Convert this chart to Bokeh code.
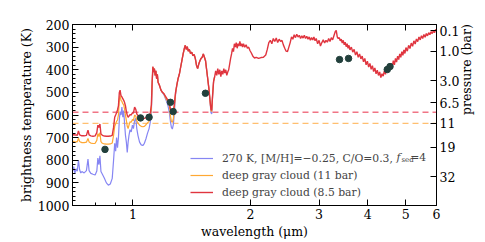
import math
from bokeh.plotting import figure
from bokeh.models import (Range1d, LinearAxis, LogAxis, FixedTicker, SingleIntervalTicker,
                          Span, Legend, LegendItem, Label)
from bokeh.embed import file_html
from bokeh.resources import INLINE

# ---------------- data ----------------
wl_nir = [0.700, 0.705, 0.710, 0.715, 0.720, 0.725, 0.730, 0.735, 0.740, 0.750,
          0.760, 0.767, 0.772, 0.780, 0.790, 0.800, 0.808, 0.813, 0.818, 0.823,
          0.828, 0.835, 0.845, 0.855, 0.865, 0.875, 0.885, 0.892, 0.898, 0.903,
          0.908, 0.913, 0.918, 0.923, 0.927, 0.932, 0.937, 0.942, 0.947, 0.952,
          0.957, 0.962, 0.967, 0.972, 0.977, 0.983, 0.990, 0.997, 1.003, 1.010,
          1.017, 1.023, 1.030, 1.040, 1.050, 1.060, 1.070, 1.080, 1.090, 1.100,
          1.108, 1.115, 1.120, 1.125, 1.130, 1.135, 1.140, 1.145, 1.150, 1.155,
          1.160, 1.170, 1.180, 1.190, 1.200, 1.210, 1.220, 1.230, 1.240, 1.248,
          1.255, 1.262, 1.270, 1.278, 1.286, 1.295, 1.305, 1.315, 1.325, 1.335,
          1.345, 1.355, 1.362, 1.370, 1.378, 1.386, 1.395, 1.405, 1.415, 1.425,
          1.435, 1.445, 1.455, 1.465, 1.475, 1.485, 1.495, 1.505, 1.515, 1.525,
          1.535, 1.545, 1.555, 1.565, 1.575, 1.585, 1.592, 1.600, 1.610, 1.620]
t_blue = [850, 828, 858, 838, 848, 800, 842, 856, 850, 856,
          846, 795, 846, 858, 862, 865, 848, 790, 820, 780,
          850, 862, 880, 900, 910, 905, 880, 800, 725, 760,
          700, 745, 700, 620, 585, 600, 565, 610, 580, 640,
          690, 720, 765, 720, 690, 665, 675, 645, 660, 625,
          615, 660, 690, 720, 732, 735, 725, 705, 680, 660,
          630, 590, 470, 390, 410, 395, 425, 405, 440, 420,
          455, 470, 490, 500, 510, 525, 540, 560, 590, 630,
          655, 662, 640, 580, 510, 470, 440, 420, 390, 360,
          330, 305, 292, 310, 298, 318, 310, 328, 322, 338,
          332, 350, 380, 395, 375, 360, 350, 345, 330, 345,
          360, 400, 440, 480, 530, 590, 595, 520, 450, 430]
t_orange = [722, 716, 720, 718, 719, 703, 717, 720, 722, 722,
            720, 704, 719, 724, 726, 725, 712, 682, 695, 678,
            718, 725, 728, 729, 729, 728, 724, 690, 650, 640,
            628, 622, 600, 530, 515, 535, 540, 550, 555, 575,
            600, 625, 650, 660, 645, 630, 632, 620, 625, 600,
            605, 625, 635, 645, 650, 652, 650, 643, 635, 628,
            612, 570, 460, 388, 410, 395, 425, 405, 440, 420,
            455, 470, 490, 500, 505, 520, 532, 545, 560, 605,
            628, 633, 615, 560, 505, 470, 440, 420, 390, 360,
            330, 305, 292, 310, 298, 318, 310, 328, 322, 338,
            332, 350, 380, 395, 375, 360, 350, 345, 330, 345,
            360, 400, 440, 480, 530, 580, 585, 515, 450, 430]
t_red_nir = [690, 686, 689, 688, 690, 670, 688, 690, 692, 692,
             690, 667, 688, 692, 694, 692, 678, 645, 655, 640,
             684, 690, 693, 694, 694, 693, 690, 655, 610, 600,
             590, 578, 560, 500, 490, 515, 520, 528, 535, 545,
             560, 585, 600, 610, 605, 598, 600, 590, 592, 565,
             575, 595, 603, 610, 614, 616, 615, 612, 608, 604,
             590, 555, 455, 386, 410, 395, 425, 405, 440, 420,
             455, 470, 490, 500, 505, 515, 525, 535, 548, 575,
             588, 592, 585, 545, 500, 470, 440, 420, 390, 360,
             330, 305, 292, 310, 298, 318, 310, 328, 322, 338,
             332, 350, 380, 395, 375, 360, 350, 345, 330, 345,
             360, 400, 440, 480, 530, 575, 580, 515, 450, 430]

wl_ir = [1.630, 1.640, 1.650, 1.660, 1.670, 1.680, 1.690, 1.700, 1.710, 1.720,
         1.730, 1.740, 1.750, 1.760, 1.770, 1.780, 1.790, 1.800, 1.810, 1.820,
         1.830, 1.840, 1.850, 1.860, 1.870, 1.880, 1.890, 1.900, 1.910, 1.920,
         1.935, 1.950, 1.965, 1.980, 1.995, 2.010, 2.030, 2.050, 2.070, 2.100,
         2.130, 2.160, 2.190, 2.210, 2.230, 2.250, 2.270, 2.290, 2.310, 2.330,
         2.350, 2.370, 2.390, 2.410, 2.430, 2.450, 2.470, 2.490, 2.510, 2.530,
         2.550, 2.570, 2.590, 2.610, 2.630, 2.650, 2.670, 2.690, 2.710, 2.730,
         2.750, 2.770, 2.790, 2.810, 2.830, 2.850, 2.870, 2.890, 2.910, 2.930,
         2.950, 2.975, 3.000, 3.025, 3.050, 3.075, 3.100, 3.125, 3.150, 3.175,
         3.200, 3.225, 3.250, 3.275, 3.300, 3.320, 3.340, 3.360, 3.380, 3.400,
         3.420, 3.440, 3.460, 3.480, 3.500, 3.520, 3.540, 3.560, 3.580, 3.600,
         3.630, 3.660, 3.690, 3.720, 3.750, 3.780, 3.810, 3.840, 3.870, 3.900,
         3.930, 3.960, 3.990, 4.020, 4.050, 4.080, 4.110, 4.140, 4.170, 4.200,
         4.230, 4.260, 4.290, 4.320, 4.350, 4.380, 4.410, 4.440, 4.470, 4.500,
         4.530, 4.560, 4.590, 4.620, 4.650, 4.680, 4.710, 4.740, 4.770, 4.800,
         4.830, 4.860, 4.890, 4.920, 4.950, 4.980, 5.010, 5.050, 5.090, 5.130,
         5.170, 5.210, 5.250, 5.290, 5.330, 5.370, 5.410, 5.450, 5.490, 5.530,
         5.570, 5.610, 5.650, 5.690, 5.730, 5.770, 5.810, 5.850, 5.890, 5.930,
         5.970, 6.000]
t_red_ir = [405, 425, 395, 420, 400, 430, 405, 420, 395, 415,
            400, 425, 410, 400, 375, 350, 330, 305, 320, 285,
            300, 280, 305, 285, 295, 275, 295, 285, 300, 285,
            300, 290, 305, 300, 315, 325, 340, 348, 345, 350,
            346, 345, 335, 310, 280, 270, 285, 262, 275, 260,
            280, 265, 275, 270, 290, 305, 318, 320, 300, 280,
            255, 265, 245, 258, 243, 255, 248, 262, 250, 260,
            248, 262, 252, 265, 255, 270, 258, 268, 255, 272,
            262, 285, 270, 295, 280, 268, 282, 270, 278, 262,
            275, 258, 268, 250, 232, 226, 255, 262, 258, 272,
            265, 282, 270, 290, 278, 298, 285, 305, 292, 312,
            300, 322, 310, 335, 320, 345, 330, 352, 340, 365,
            350, 378, 362, 388, 372, 398, 382, 408, 392, 418,
            402, 425, 410, 435, 418, 428, 405, 420, 395, 410,
            385, 398, 372, 388, 360, 378, 350, 366, 340, 355,
            330, 345, 320, 336, 312, 328, 302, 318, 292, 306,
            282, 296, 272, 286, 264, 276, 255, 268, 250, 262,
            244, 256, 240, 250, 236, 245, 232, 240, 228, 236,
            222, 225]

# observed photometry points
dot_wl = [0.848, 1.046, 1.100, 1.248, 1.268, 1.534, 3.385, 3.570, 4.487, 4.560]
dot_T = [752, 613, 610, 544, 585, 504, 355, 350, 399, 386]

# cloud-deck temperatures (dashed lines): 11 bar, 8.5 bar
cloud_T = [637, 588]

# axes
x_ticks = [1, 2, 3, 4, 5, 6]
x_minor = [0.8, 0.9]
pressure_T = [227, 319, 448, 545, 637, 743, 872]
pressure_labels = ["0.1", "1.0", "3.0", "6.5", "11", "19", "32"]

labels = ["270 K, [M/H]=\u22120.25, C/O=0.3,", "deep gray cloud (11 bar)",
          "deep gray cloud (8.5 bar)"]
colors = ["#8080f2", "#ffa833", "#e0353f"]
dash_colors = ["#ffbf70", "#f07585"]

FONT = "DejaVu Serif"

# ---------------- figure ----------------
p = figure(width=485, height=242, x_axis_type="log",
           x_range=Range1d(0.7, 6.0), y_range=Range1d(1000, 200),
           output_backend="svg", toolbar_location=None,
           min_border_left=72, min_border_right=49,
           min_border_top=24, min_border_bottom=37)
p.xgrid.visible = False
p.ygrid.visible = False
p.outline_line_color = "black"
p.background_fill_color = "white"


def style(ax, size="12.5px"):
    ax.axis_line_color = "black"
    ax.major_tick_in = 6
    ax.major_tick_out = 0
    ax.minor_tick_in = 3
    ax.minor_tick_out = 0
    ax.major_tick_line_color = "black"
    ax.minor_tick_line_color = "black"
    ax.major_label_text_font = FONT
    ax.major_label_text_font_size = size
    ax.major_label_text_color = "black"
    ax.axis_label_text_font = FONT
    ax.axis_label_text_font_size = "12.5px"
    ax.axis_label_text_font_style = "normal"
    ax.axis_label_text_color = "black"


xax = p.xaxis[0]
xax.ticker = FixedTicker(ticks=x_ticks, minor_ticks=x_minor)
xax.major_label_overrides = {v: str(v) for v in x_ticks}
xax.axis_label = "wavelength (\u03bcm)"
style(xax)
xax.major_label_standoff = 3
xax.axis_label_standoff = 2

yax = p.yaxis[0]
yax.ticker = SingleIntervalTicker(interval=100, num_minor_ticks=5)
yax.axis_label = "brightness temperature (K)"
style(yax)
yax.major_label_standoff = 3
yax.axis_label_standoff = 1

top = LogAxis(ticker=FixedTicker(ticks=x_ticks, minor_ticks=x_minor),
              major_label_overrides={v: "" for v in x_ticks})
style(top)
top.major_label_standoff = 0
p.add_layout(top, "above")

right = LinearAxis(ticker=FixedTicker(ticks=pressure_T),
                   major_label_overrides=dict(zip(pressure_T, pressure_labels)),
                   axis_label="pressure (bar)")
style(right)
right.major_label_standoff = 3
right.axis_label_standoff = 4
right.axis_label_orientation = math.pi / 2
p.add_layout(right, "right")

for t, c in zip(cloud_T, dash_colors):
    p.add_layout(Span(location=t, dimension="width", line_color=c,
                      line_dash="6 4", line_width=1.4, level="underlay"))

r_blue = p.line(wl_nir, t_blue, line_color=colors[0], line_width=1.2, line_alpha=0.95)
r_orange = p.line(wl_nir, t_orange, line_color=colors[1], line_width=1.2)
r_red = p.line(wl_nir + wl_ir, t_red_nir + t_red_ir, line_color=colors[2], line_width=1.4)

p.scatter(dot_wl, dot_T, size=6.5, color="#22403c")

legend = Legend(items=[LegendItem(label=l, renderers=[r]) for l, r in
                       zip(labels, [r_blue, r_orange, r_red])],
                location=(118, 6), padding=0, margin=0, spacing=3,
                glyph_width=23, glyph_height=14, label_height=14,
                label_standoff=9, border_line_alpha=0, background_fill_alpha=0,
                label_text_font=FONT, label_text_font_size="10.8px")
p.add_layout(legend)

# the f_sed part of the first legend label
p.add_layout(Label(x=4.74, y=788, text="f", text_font=FONT, text_font_style="italic",
                   text_font_size="10.8px", text_baseline="middle"))
p.add_layout(Label(x=4.88, y=801, text="sed", text_font=FONT,
                   text_font_size="7px", text_baseline="middle"))
p.add_layout(Label(x=5.14, y=788, text="=4", text_font=FONT,
                   text_font_size="10.8px", text_baseline="middle"))

open("out.html", "w").write(file_html(p, INLINE))
